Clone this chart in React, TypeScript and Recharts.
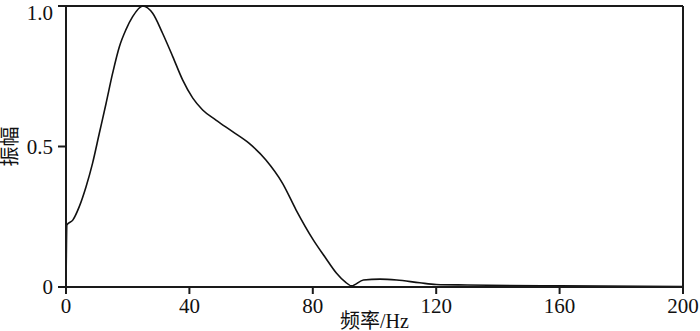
import React from 'react';
import { LineChart, Line, XAxis, YAxis, ReferenceLine, Label } from 'recharts';

const freq = [0, 0.3, 2.2, 4.3, 6.5, 8.6, 10.8, 13, 15.1, 17.3, 19.4, 21.6, 24.9, 28.1, 31.3, 34.6, 37.8, 41.1, 44.3, 48.6, 54, 59.4, 64.8, 70.2, 74.6, 80.2, 84, 87.7, 90.5, 92.6, 96.4, 101.8, 107.2, 114.7, 120, 130, 160, 200];
const amp = [0, 0.221, 0.238, 0.286, 0.357, 0.44, 0.547, 0.654, 0.76, 0.855, 0.915, 0.962, 1.0, 0.974, 0.903, 0.82, 0.737, 0.672, 0.63, 0.594, 0.553, 0.511, 0.452, 0.369, 0.274, 0.167, 0.106, 0.049, 0.018, 0.004, 0.025, 0.028, 0.025, 0.015, 0.009, 0.007, 0.004, 0.002];
const xTicks = [0, 40, 80, 120, 160, 200];
const yTicks = [0, 0.5, 1];
const xLabel = '频率/Hz';
const yLabel = '振幅';

const data = freq.map((f, i) => ({ f, a: amp[i] }));

const FONT = '"Liberation Serif", "Noto Sans CJK SC", serif';
const AXIS = '#1a1a1a';

export default function App() {
  return (
    <div style={{ position: 'absolute', left: 0, top: 0, width: 700, height: 331, background: '#fff' }}>
      <LineChart width={700} height={331} data={data} margin={{ top: 6, right: 17, left: 0, bottom: 0 }}>
        <XAxis
          dataKey="f"
          type="number"
          domain={[0, 200]}
          ticks={xTicks}
          height={44}
          axisLine={{ stroke: AXIS, strokeWidth: 2 }}
          tickLine={{ stroke: AXIS, strokeWidth: 2 }}
          tickSize={7}
          tickMargin={4}
          tick={{ fill: '#111', fontSize: 21, fontFamily: FONT }}
        >
          <Label value={xLabel} position="insideBottom" offset={3} style={{ fill: '#111', fontSize: 20, fontFamily: FONT }} />
        </XAxis>
        <YAxis
          type="number"
          domain={[0, 1]}
          ticks={yTicks}
          width={66}
          tickFormatter={(v: number) => (v === 0 ? '0' : v.toFixed(1))}
          axisLine={{ stroke: AXIS, strokeWidth: 2 }}
          tickLine={{ stroke: AXIS, strokeWidth: 2 }}
          tickSize={8}
          tickMargin={5}
          tick={{ fill: '#111', fontSize: 21, fontFamily: FONT }}
        >
          <Label value={yLabel} angle={-90} position="insideLeft" offset={10} style={{ fill: '#111', fontSize: 20, fontFamily: FONT, textAnchor: 'middle' }} />
        </YAxis>
        <ReferenceLine y={1} stroke={AXIS} strokeWidth={2} ifOverflow="visible" />
        <ReferenceLine x={200} stroke={AXIS} strokeWidth={2} ifOverflow="visible" />
        <Line type="monotone" dataKey="a" stroke="#111" strokeWidth={1.6} dot={false} isAnimationActive={false} />
      </LineChart>
    </div>
  );
}
